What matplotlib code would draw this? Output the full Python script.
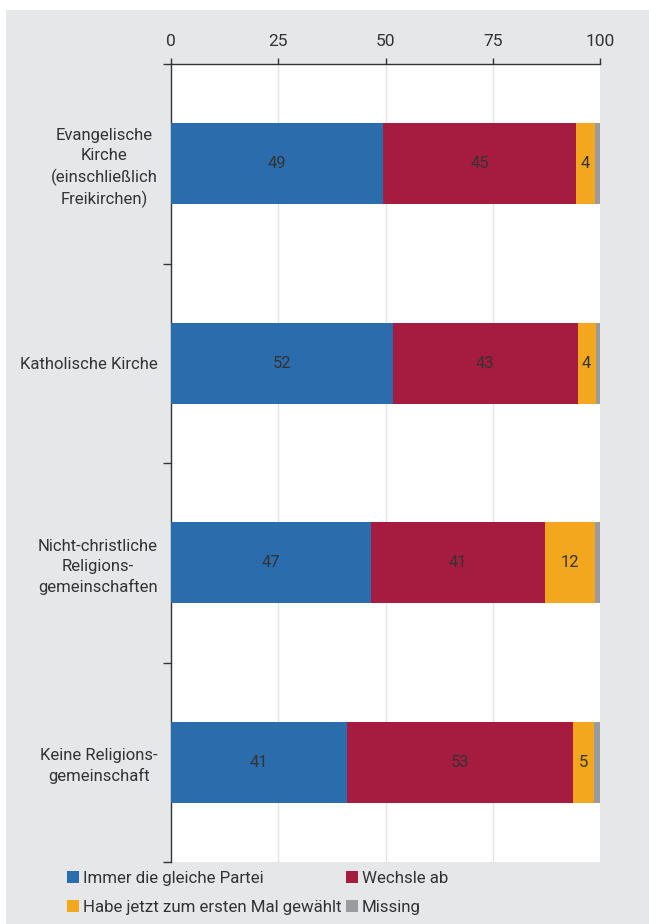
import matplotlib
matplotlib.use("Agg")
import matplotlib.pyplot as plt
from matplotlib.patches import Patch, Rectangle

plt.rcParams['font.family'] = ['Roboto', 'DejaVu Sans']

categories = ["Evangelische\nKirche\n(einschließlich\nFreikirchen)",
              "Katholische Kirche",
              "Nicht-christliche\nReligions-\ngemeinschaften",
              "Keine Religions-\ngemeinschaft"]
series_names = ["Immer die gleiche Partei", "Wechsle ab",
                "Habe jetzt zum ersten Mal gewählt", "Missing"]
immer = [49.4, 51.7, 46.6, 41.0]
wechsle = [45.0, 43.1, 40.6, 52.6]
erstes = [4.4, 4.2, 11.6, 5.1]
missing = [1.2, 1.0, 1.2, 1.3]
xticks = [0, 25, 50, 75, 100]

colors = ["#2b6cad", "#a61c41", "#f2a71f", "#9b9b9f"]
show_label = [True, True, True, False]
txt = "#333333"

fig = plt.figure(figsize=(6.49, 9.24), dpi=100, facecolor="white")
fig.patches.append(Rectangle((6/649, 0), 1, 1 - 10/924, transform=fig.transFigure,
                             facecolor="#e6e7e9", edgecolor="none", zorder=-10))

ax = fig.add_axes([171/649, 1 - 862/924, (600-171)/649, (862-64)/924])
ax.set_facecolor("white")

series = [immer, wechsle, erstes, missing]
ypos = list(range(len(categories)))
left = [0.0] * len(categories)
for vals, col, show in zip(series, colors, show_label):
    bars = ax.barh(ypos, vals, left=left, height=0.405, color=col, edgecolor="none", zorder=3)
    if show:
        for b, v in zip(bars, vals):
            ax.text(b.get_x() + b.get_width() / 2, b.get_y() + b.get_height() / 2,
                    f"{v:.0f}", ha="center", va="center", fontsize=12, color=txt, zorder=4)
    left = [l + v for l, v in zip(left, vals)]

ax.set_xlim(0, 100)
ax.set_ylim(len(categories) - 0.5, -0.5)
ax.xaxis.tick_top()
ax.set_xticks(xticks)
ax.set_xticklabels([str(t) for t in xticks])
ax.tick_params(axis="x", direction="out", length=4, width=1, color=txt,
               labelsize=12.5, labelcolor=txt, pad=7)
for x in xticks[1:-1]:
    ax.axvline(x, color="#e3e3e3", lw=1, zorder=1)

ax.set_yticks(ypos)
ax.set_yticklabels(categories, multialignment="center", linespacing=1.4)
ax.set_yticks([i - 0.5 for i in range(len(categories) + 1)], minor=True)
ax.tick_params(axis="y", which="major", length=0, labelsize=12, labelcolor=txt, pad=9.5)
ax.tick_params(axis="y", which="minor", length=6, width=1, color=txt)

for s in ["right", "bottom"]:
    ax.spines[s].set_visible(False)
for s in ["left", "top"]:
    ax.spines[s].set_color(txt)
    ax.spines[s].set_linewidth(1)

handles = [Patch(facecolor=c, edgecolor="none") for c in colors]
order = [0, 2, 1, 3]
leg = fig.legend([handles[i] for i in order], [series_names[i] for i in order],
                 ncol=2, loc="upper left", bbox_to_anchor=(67/649, 1 - 871/924),
                 frameon=False, fontsize=12.2, handlelength=0.7, handleheight=0.7,
                 handletextpad=0.25, columnspacing=0.25, labelspacing=0.8,
                 borderpad=0, borderaxespad=0)
for t in leg.get_texts():
    t.set_color(txt)

fig.savefig("out.png", dpi=100, facecolor="white")
